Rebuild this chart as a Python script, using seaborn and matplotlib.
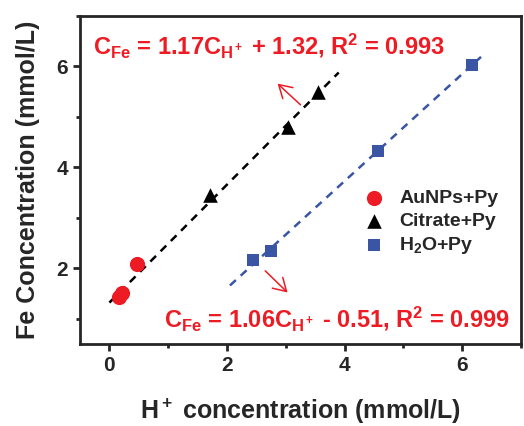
import numpy as np
import pandas as pd
import matplotlib
matplotlib.use("Agg")
import matplotlib.pyplot as plt
from matplotlib.ticker import MultipleLocator
import seaborn as sns

# ── Data ───────────────────────────────────────────────────────────────────────
aunps_x = [0.17, 0.21, 0.47]
aunps_y = [1.43, 1.52, 2.09]

citrate_x = [1.71, 3.03, 3.54]
citrate_y = [3.45, 4.80, 5.50]

water_x = [2.44, 2.75, 4.56, 6.17]
water_y = [2.16, 2.34, 4.32, 6.02]

# fitted lines (end points)
citrate_fit_x = [0.0, 3.9]
citrate_fit_y = [1.32, 5.88]
water_fit_x = [2.05, 6.32]
water_fit_y = [1.66, 6.19]

labels = ["AuNPs+Py", "Citrate+Py", "H$_2$O+Py"]

RED = "#ed1c24"
BLUE = "#3a55a4"

sns.set_style("ticks")
plt.rcParams["font.family"] = ["Liberation Sans", "DejaVu Sans"]
plt.rcParams["font.weight"] = "bold"
plt.rcParams["mathtext.fontset"] = "custom"
plt.rcParams["mathtext.rm"] = "Liberation Sans:bold"
plt.rcParams["mathtext.bf"] = "Liberation Sans:bold"
plt.rcParams["mathtext.it"] = "Liberation Sans:bold"
plt.rcParams["mathtext.default"] = "bf"

groups = [
    (aunps_x, aunps_y, labels[0], RED, "o", 120),
    (citrate_x, citrate_y, labels[1], "black", "^", 110),
    (water_x, water_y, labels[2], BLUE, "s", 80),
]

fig = plt.figure(figsize=(5.24, 4.26), dpi=100)
ax = fig.add_axes([80 / 524, 1 - 344 / 426, 441 / 524, 328 / 426])

# dashed fit lines
ax.plot(citrate_fit_x, citrate_fit_y, color="black", lw=1.8, dashes=(3.2, 2.6), zorder=1)
ax.plot(water_fit_x, water_fit_y, color=BLUE, lw=1.8, dashes=(3.2, 2.6), zorder=1)

for gx, gy, lab, col, mk, size in groups:
    df = pd.DataFrame({"x": gx, "y": gy})
    sns.scatterplot(data=df, x="x", y="y", color=col, marker=mk, s=size,
                    linewidth=0, label=lab, ax=ax, zorder=3)

ax.set_xlim(-0.5, 7)
ax.set_ylim(0.5, 7)
ax.xaxis.set_major_locator(MultipleLocator(2))
ax.xaxis.set_minor_locator(MultipleLocator(1))
ax.yaxis.set_major_locator(MultipleLocator(2))
ax.yaxis.set_minor_locator(MultipleLocator(1))
ax.tick_params(which="both", direction="out", width=2, labelsize=15,
               top=False, right=False)
ax.tick_params(which="major", length=5)
ax.tick_params(which="minor", length=3)
for t in ax.get_xticklabels() + ax.get_yticklabels():
    t.set_fontweight("bold")
for spine in ax.spines.values():
    spine.set_visible(True)
    spine.set_linewidth(2)

ax.set_xlabel("H$^+$ concentration (mmol/L)", fontsize=18, fontweight="bold", labelpad=16)
ax.set_ylabel("Fe Concentration (mmol/L)", fontsize=18, fontweight="bold", labelpad=12)

# equations
ax.text(0.03, 0.885, "C$_{Fe}$ = 1.17C$_{H^+}$ + 1.32, R$^2$ = 0.993",
        transform=ax.transAxes, color=RED, fontsize=17, fontweight="bold",
        ha="left", va="baseline")
ax.text(0.975, 0.052, "C$_{Fe}$ = 1.06C$_{H^+}$ - 0.51, R$^2$ = 0.999",
        transform=ax.transAxes, color=RED, fontsize=17, fontweight="bold",
        ha="right", va="baseline")

# arrows
arrow_style = dict(arrowstyle="->,head_length=0.5,head_width=0.3", color=RED,
                   lw=1.1, mutation_scale=18, shrinkA=0, shrinkB=0)
ax.annotate("", xy=(2.86, 5.66), xytext=(3.25, 5.24), arrowprops=arrow_style)
ax.annotate("", xy=(3.03, 1.52), xytext=(2.65, 1.95), arrowprops=arrow_style)

leg = ax.legend(loc="center left", bbox_to_anchor=(0.605, 0.37), frameon=False,
                fontsize=14, handletextpad=0.3, labelspacing=0.25,
                borderaxespad=0, markerscale=1.0)
for t in leg.get_texts():
    t.set_fontweight("bold")

fig.savefig("out.png", dpi=100)
